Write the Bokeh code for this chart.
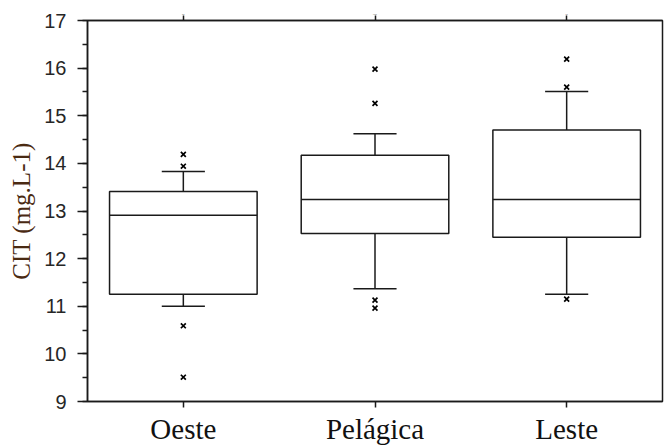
from bokeh.plotting import figure
from bokeh.models import (FactorRange, Range1d, LinearAxis, CategoricalAxis,
                          SingleIntervalTicker, ColumnDataSource)
from bokeh.transform import dodge
from bokeh.embed import file_html
from bokeh.resources import INLINE

# Summary statistics of CIT per zone
zones = ["Oeste", "Pelágica", "Leste"]
q1 = [11.25, 12.53, 12.45]
median = [12.91, 13.24, 13.24]
q3 = [13.41, 14.17, 14.70]
whisker_low = [11.00, 11.37, 11.25]
whisker_high = [13.83, 14.62, 15.51]

# Individual outlying values
outlier_zone = ["Oeste", "Oeste", "Oeste", "Oeste",
                "Pelágica", "Pelágica", "Pelágica", "Pelágica",
                "Leste", "Leste", "Leste"]
outlier_value = [14.19, 13.94, 10.59, 9.51,
                 15.98, 15.26, 11.13, 10.96,
                 16.19, 15.60, 11.15]

y_ticks_interval = 1

box_w = 0.77
cap_w = 0.225
ink = "#1a1a1a"

src = ColumnDataSource(dict(zone=zones, q1=q1, med=median, q3=q3,
                            lo=whisker_low, hi=whisker_high))

p = figure(width=664, height=447, x_range=FactorRange(*zones),
           y_range=Range1d(9, 17), output_backend="svg",
           toolbar_location=None, x_axis_location=None, y_axis_location=None,
           min_border_left=87, min_border_right=2, min_border_top=20,
           min_border_bottom=43)
p.grid.visible = False
p.outline_line_color = ink
p.outline_line_width = 1.5
p.background_fill_color = "white"
p.border_fill_color = "white"

# left value axis
ya = LinearAxis(ticker=SingleIntervalTicker(interval=y_ticks_interval, num_minor_ticks=2))
ya.axis_label = "CIT (mg.L-1)"
ya.axis_label_text_font = "Liberation Serif"
ya.axis_label_text_font_style = "normal"
ya.axis_label_text_font_size = "25px"
ya.axis_label_text_color = "#4a2a12"
ya.axis_label_standoff = 6
ya.major_label_text_font = "Liberation Sans"
ya.major_label_text_font_size = "20px"
ya.major_label_text_color = "#262626"
ya.major_label_standoff = 11
ya.major_tick_out = 10
ya.major_tick_in = 0
ya.minor_tick_out = 5
ya.minor_tick_in = 0
ya.axis_line_color = ink
ya.axis_line_width = 1.5
ya.major_tick_line_color = ink
ya.major_tick_line_width = 1.5
ya.minor_tick_line_color = ink
ya.minor_tick_line_width = 1.5
p.add_layout(ya, "left")

# bottom category axis
xa = CategoricalAxis()
xa.major_label_text_font = "Liberation Serif"
xa.major_label_text_font_size = "29px"
xa.major_label_text_color = "#111111"
xa.major_label_standoff = 5
xa.major_tick_out = 6
xa.major_tick_in = 0
xa.axis_line_color = ink
xa.axis_line_width = 1.5
xa.major_tick_line_color = ink
xa.major_tick_line_width = 1.5
p.add_layout(xa, "below")

# top axis: tick marks only
xt = CategoricalAxis()
xt.major_label_overrides = {z: "" for z in zones}
xt.major_label_text_font_size = "1px"
xt.major_label_standoff = 0
xt.major_tick_out = 5
xt.major_tick_in = 0
xt.axis_line_color = ink
xt.axis_line_width = 1.5
xt.major_tick_line_color = ink
xt.major_tick_line_width = 1.5
p.add_layout(xt, "above")

line_kw = dict(line_color=ink, line_width=1.5)

# whisker stems
p.segment(x0="zone", y0="q3", x1="zone", y1="hi", source=src, **line_kw)
p.segment(x0="zone", y0="q1", x1="zone", y1="lo", source=src, **line_kw)
# whisker caps
p.segment(x0=dodge("zone", -cap_w / 2, range=p.x_range), y0="hi",
          x1=dodge("zone", cap_w / 2, range=p.x_range), y1="hi", source=src, **line_kw)
p.segment(x0=dodge("zone", -cap_w / 2, range=p.x_range), y0="lo",
          x1=dodge("zone", cap_w / 2, range=p.x_range), y1="lo", source=src, **line_kw)
# boxes
p.vbar(x="zone", top="q3", bottom="q1", width=box_w, source=src,
       fill_color="white", **line_kw)
# medians
p.segment(x0=dodge("zone", -box_w / 2, range=p.x_range), y0="med",
          x1=dodge("zone", box_w / 2, range=p.x_range), y1="med", source=src, **line_kw)

# outliers
p.scatter(x=outlier_zone, y=outlier_value, marker="x", size=7,
          line_color="black", line_width=1.7)

open("out.html", "w").write(file_html(p, INLINE))
